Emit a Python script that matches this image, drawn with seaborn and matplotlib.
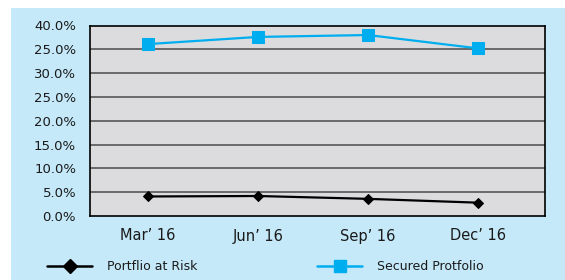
import matplotlib
matplotlib.use("Agg")
import matplotlib.pyplot as plt
from matplotlib.patches import Rectangle
from matplotlib.lines import Line2D
from matplotlib.ticker import FixedLocator, FixedFormatter
import seaborn as sns
import pandas as pd

quarters = ["Mar’ 16", "Jun’ 16", "Sep’ 16", "Dec’ 16"]
secured = [36.1, 37.6, 38.0, 35.2]
at_risk = [4.1, 4.2, 3.6, 2.8]
y_ticks = [0, 5, 10, 15, 20, 25, 30, 35, 40]
y_tick_labels = ["0.0%", "5.0%", "10.0%", "15.0%", "20.0%", "25.0%", "30.0%", "25.0%", "40.0%"]
series_names = ["Portflio at Risk", "Secured Protfolio"]

sns.set_style("white")
plt.rcParams["font.family"] = ["DejaVu Sans"]

df = pd.DataFrame({"q": quarters, "secured": secured, "risk": at_risk})

W, H = 565, 280
fig = plt.figure(figsize=(W / 100, H / 100), dpi=100, facecolor="white")
fig.patches.append(Rectangle((11 / W, 0), 1 - 11 / W, (H - 8) / H,
                             transform=fig.transFigure, facecolor="#c5e9f9",
                             edgecolor="none", zorder=-5))
ax = fig.add_axes([90 / W, (H - 216) / H, (545 - 90) / W, (216 - 25.5) / H])
ax.set_zorder(2)
ax.set_facecolor("#dcdcdf")

sns.lineplot(data=df, x="q", y="risk", ax=ax, color="black", linewidth=1.6,
             marker="D", markersize=5, markeredgecolor="black",
             sort=False, legend=False)
sns.lineplot(data=df, x="q", y="secured", ax=ax, color="#00aeef", linewidth=1.6,
             marker="s", markersize=9, markeredgecolor="#00aeef",
             sort=False, legend=False)

ax.set_ylim(0, 40)
ax.set_xlim(-0.527, 3.61)
ax.yaxis.set_major_locator(FixedLocator(y_ticks))
ax.yaxis.set_major_formatter(FixedFormatter(y_tick_labels))
for yv in y_ticks[1:-1]:
    ax.axhline(yv, color="#4a4a4a", linewidth=1.1, zorder=1)
ax.set_xticks(range(len(quarters)))
ax.set_xticklabels(quarters)
ax.set_xticks([0.5, 1.5, 2.5], minor=True)
ax.tick_params(axis="x", which="major", length=0, pad=9, labelsize=10.5, colors="#1a1a1a")
ax.tick_params(axis="x", which="minor", length=4, width=1, color="black", direction="out")
ax.tick_params(axis="y", length=4, width=1, color="black", direction="out", pad=6,
               labelsize=9.5, labelcolor="#1a1a1a")
ax.set_xlabel("")
ax.set_ylabel("")
for s in ax.spines.values():
    s.set_visible(True)
    s.set_color("black")
    s.set_linewidth(1.2)

handles = [
    Line2D([], [], color="black", linewidth=1.8, marker="D", markersize=7),
    Line2D([], [], color="#00aeef", linewidth=1.8, marker="s", markersize=8),
]
leg = fig.legend(handles, series_names, loc="center left",
                 bbox_to_anchor=(47 / W, (H - 267) / H), ncol=2, frameon=False,
                 fontsize=9, handlelength=3.6, handletextpad=1.2, columnspacing=9.6,
                 borderpad=0, borderaxespad=0)
for t in leg.get_texts():
    t.set_color("#1a1a1a")

fig.savefig("out.png", dpi=100, facecolor="white")
